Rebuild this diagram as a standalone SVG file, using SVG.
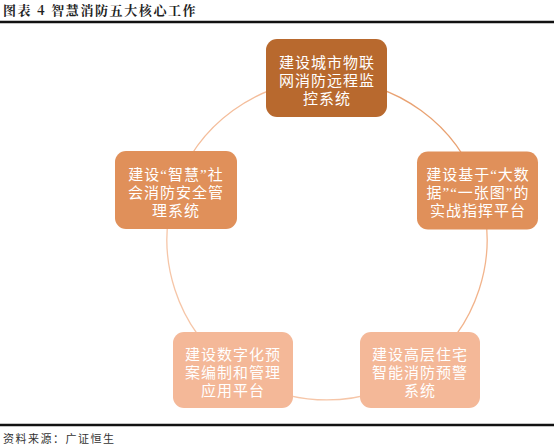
<svg xmlns="http://www.w3.org/2000/svg" width="554" height="448" viewBox="0 0 554 448">
<style>
.title{font-family:"Noto Serif CJK SC","Noto Sans CJK SC",serif;font-size:13px;font-weight:bold;fill:#222;letter-spacing:1.6px}
.src{font-family:"Noto Sans CJK SC",sans-serif;font-size:11px;fill:#333;letter-spacing:1.5px}
.t{font-family:"Liberation Serif","Noto Sans CJK SC",sans-serif;font-size:15px;fill:#fff;text-anchor:middle;letter-spacing:1px}
.arc{fill:none;stroke-width:1.3}
</style>
<rect width="554" height="448" fill="#fff"/>
<text class="title" x="3" y="15">图表 4 智慧消防五大核心工作</text>
<line x1="0" y1="22" x2="554" y2="22" stroke="#111" stroke-width="2.5"/>
<g id="connectors">
<path class="arc" stroke="#E9A272" d="M327,80 A160,160 0 0 1 479.2,190.6"/>
<path class="arc" stroke="#F2B48C" d="M479.2,190.6 A160,160 0 0 1 421,369.4"/>
<path class="arc" stroke="#F6C6A8" d="M421,369.4 A160,160 0 0 1 233,369.4"/>
<path class="arc" stroke="#F6C6A8" d="M233,369.4 A160,160 0 0 1 174.8,190.6"/>
<path class="arc" stroke="#F4BE9C" d="M174.8,190.6 A160,160 0 0 1 327,80"/>
</g>
<g id="node-top">
<rect x="266" y="39" width="121" height="78" rx="11" fill="#B8692E"/>
<text class="t"><tspan x="327" y="67.5">建设城市物联</tspan><tspan x="327" y="85.5">网消防远程监</tspan><tspan x="327" y="103.5">控系统</tspan></text>
</g>
<g id="node-right">
<rect x="417" y="151.5" width="121" height="78" rx="11" fill="#E0905A"/>
<text class="t"><tspan x="478" y="180">建设基于“大数</tspan><tspan x="478" y="198">据”“一张图”的</tspan><tspan x="478" y="216">实战指挥平台</tspan></text>
</g>
<g id="node-left">
<rect x="115" y="151" width="122" height="78" rx="11" fill="#E0905A"/>
<text class="t"><tspan x="176" y="180">建设“智慧”社</tspan><tspan x="176" y="198">会消防安全管</tspan><tspan x="176" y="216">理系统</tspan></text>
</g>
<g id="node-bottom-left">
<rect x="173" y="332" width="120" height="76" rx="11" fill="#F4B898"/>
<text class="t"><tspan x="233" y="359.5">建设数字化预</tspan><tspan x="233" y="377.5">案编制和管理</tspan><tspan x="233" y="395.5">应用平台</tspan></text>
</g>
<g id="node-bottom-right">
<rect x="360" y="332" width="120" height="76" rx="11" fill="#F4B898"/>
<text class="t"><tspan x="420" y="359.5">建设高层住宅</tspan><tspan x="420" y="377.5">智能消防预警</tspan><tspan x="420" y="395.5">系统</tspan></text>
</g>
<line x1="0" y1="425" x2="554" y2="425" stroke="#111" stroke-width="2.5"/>
<text class="src" x="3" y="443">资料来源：广证恒生</text>
</svg>
